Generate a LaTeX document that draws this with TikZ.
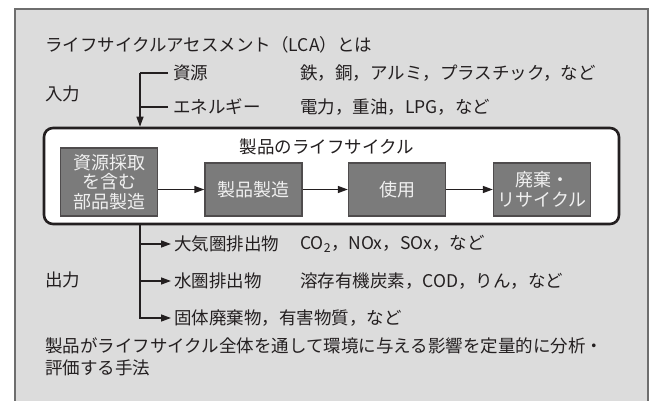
\documentclass[tikz,border=0pt]{standalone}
\usepackage{fontspec}
\setmainfont{Noto Sans CJK JP}
\usetikzlibrary{arrows.meta}
\definecolor{bgfill}{HTML}{DCDCDC}
\definecolor{bgline}{HTML}{6E6E6E}
\definecolor{boxfill}{HTML}{7B7B7B}
\definecolor{ink}{HTML}{231F20}
\tikzset{
  outerbox/.style={fill=bgfill, draw=bgline, line width=2pt},
  cyclebox/.style={fill=white, draw=ink, line width=2.6pt, rounded corners=9pt, minimum width=575pt, minimum height=96pt},
  stagebox/.style={fill=boxfill, draw=ink!80, line width=1.3pt, text=white!94!black, align=center, inner sep=0pt, minimum width=97pt, font=\fontsize{18}{19.5}\selectfont},
  lbl/.style={anchor=west, inner sep=0pt, text=ink},
  conn/.style={draw=ink, line width=1.3pt},
  arr/.style={conn, -{Triangle[length=10pt,width=7pt]}},
}
\begin{document}
\begin{tikzpicture}[x=1pt, y=-1pt, font=\fontsize{17.5}{21}\selectfont]
\useasboundingbox (0,0) rectangle (653,401);
\clip (0,0) rectangle (653,401);
\fill[white] (0,0) rectangle (653,401);
\draw[outerbox] (15,9) rectangle (648,430);

% heading
\node[lbl] (head) at (45,45) {ライフサイクルアセスメント（LCA）とは};

% inputs
\node[lbl] (inlbl) at (45,94) {入力};
\node[lbl] (res) at (173,73) {資源};
\node[lbl] (ene) at (173,107) {エネルギー};
\node[lbl] (resx) at (300,73) {鉄，銅，アルミ，プラスチック，など};
\node[lbl] (enex) at (300,107) {電力，重油，LPG，など};

% life cycle frame
\node[cyclebox] (lc) at (331.5,176) {};
\node[inner sep=0pt, text=ink] (lctitle) at (327,147) {製品のライフサイクル};

\node[stagebox, minimum height=68pt] (s1) at (109,182) {資源採取\\を含む\\部品製造};
\node[stagebox, minimum height=53pt] (s2) at (253.5,189.5) {製品製造};
\node[stagebox, minimum height=53pt] (s3) at (397,189.5) {使用};
\node[stagebox, minimum height=53pt, font=\fontsize{18}{20.5}\selectfont] (s4) at (542,189.5) {廃棄・\\リサイクル};

\draw[arr] (s1.east |- s2.west) -- (s2.west);
\draw[arr] (s2) -- (s3);
\draw[arr] (s3) -- (s4);

% input connectors
\coordinate (inTop) at (140,73);
\draw[conn] ([xshift=-5pt]res.west) -- (inTop);
\draw[arr] (inTop) -- (inTop |- lc.north);
\draw[conn] ([xshift=-5pt]ene.west) -- (inTop |- ene.west);

% outputs
\node[lbl] (outlbl) at (45,280) {出力};
\node[lbl] (air) at (174,244) {大気圏排出物};
\node[lbl] (water) at (174,281) {水圏排出物};
\node[lbl] (solid) at (174,318) {固体廃棄物，有害物質，など};
\node[lbl] (airx) at (300,244) {CO\textsubscript{2}，NOx，SOx，など};
\node[lbl] (waterx) at (300,281) {溶存有機炭素，COD，りん，など};

\coordinate (outTop) at (inTop |- lc.south);
\draw[arr] (outTop) |- ([xshift=-3pt]solid.west);
\draw[arr] (outTop |- air.west) -- ([xshift=-3pt]air.west);
\draw[arr] (outTop |- water.west) -- ([xshift=-3pt]water.west);

% description
\node[lbl, anchor=north west, align=left, font=\fontsize{17.5}{22}\selectfont] (desc) at (45,337) {製品がライフサイクル全体を通して環境に与える影響を定量的に分析・\\評価する手法};
\end{tikzpicture}
\end{document}
